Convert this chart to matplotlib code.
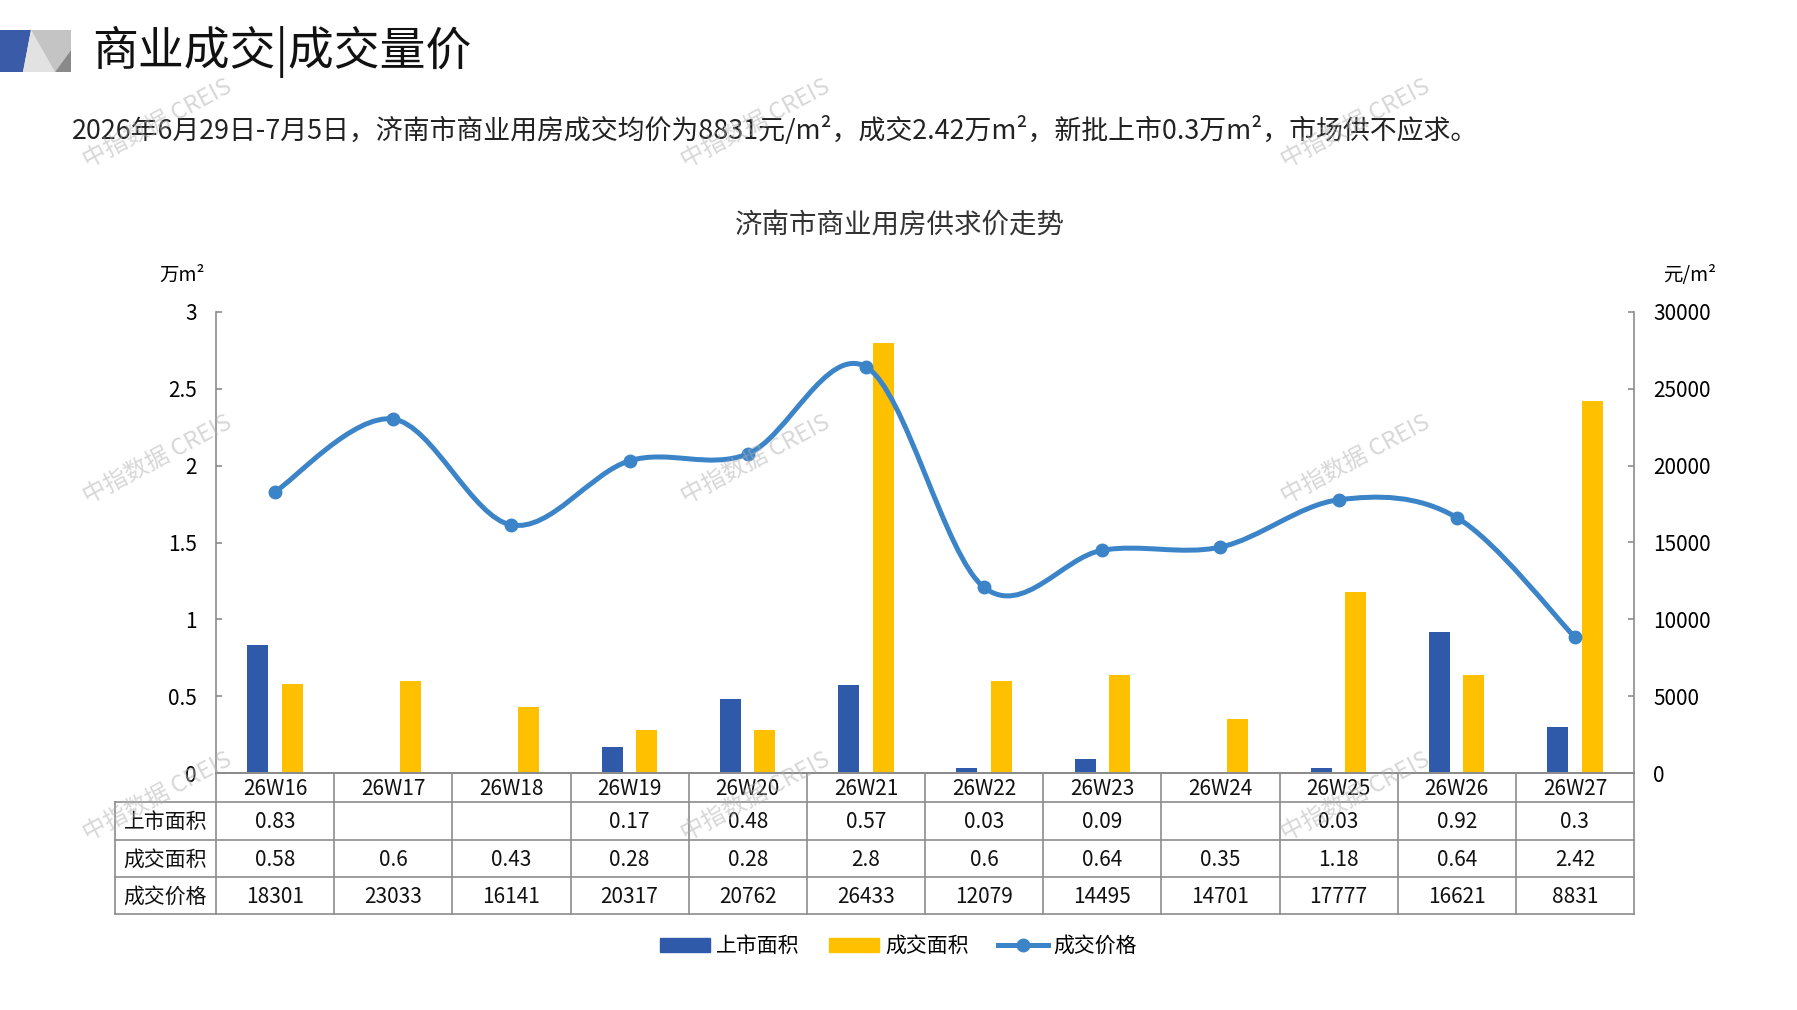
import matplotlib
matplotlib.use('Agg')
import matplotlib.pyplot as plt
import numpy as np
from matplotlib.path import Path
from matplotlib.patches import PathPatch, Polygon, Patch
from matplotlib.lines import Line2D
from matplotlib.transforms import blended_transform_factory

plt.rcParams['font.family'] = ['Noto Sans CJK SC', 'DejaVu Sans']

weeks = ['26W16', '26W17', '26W18', '26W19', '26W20', '26W21',
         '26W22', '26W23', '26W24', '26W25', '26W26', '26W27']
listed = [0.83, None, None, 0.17, 0.48, 0.57, 0.03, 0.09, None, 0.03, 0.92, 0.3]
sold = [0.58, 0.6, 0.43, 0.28, 0.28, 2.8, 0.6, 0.64, 0.35, 1.18, 0.64, 2.42]
price = [18301, 23033, 16141, 20317, 20762, 26433, 12079, 14495, 14701, 17777, 16621, 8831]
row_names = ['上市面积', '成交面积', '成交价格']
series_names = ['上市面积', '成交面积', '成交价格']
left_ticks = [0, 0.5, 1, 1.5, 2, 2.5, 3]
right_ticks = [0, 5000, 10000, 15000, 20000, 25000, 30000]

title = '商业成交|成交量价'
subtitle = '2026年6月29日-7月5日，济南市商业用房成交均价为8831元/m²，成交2.42万m²，新批上市0.3万m²，市场供不应求。'
chart_title = '济南市商业用房供求价走势'

c_blue = '#2F5AAA'
c_yellow = '#FFC000'
c_line = '#3C84C8'
c_grid = '#8C8C8C'

W, H = 1797, 1010
fig = plt.figure(figsize=(W / 100, H / 100), dpi=100)


def fx(x):
    return x / W


def fy(y):
    return 1 - y / H


# header logo
logo = [
    ([(0, 30), (31, 30), (23, 72), (0, 72)], '#3A5BA8'),
    ([(23, 72), (31, 30), (55, 72)], '#E2E2E2'),
    ([(31, 30), (71, 30), (71, 50), (55, 72)], '#C4C4C4'),
    ([(55, 72), (71, 50), (71, 72)], '#8A8A8A'),
]
for pts, col in logo:
    fig.patches.append(Polygon([(fx(a), fy(b)) for a, b in pts], closed=True,
                               transform=fig.transFigure, facecolor=col, edgecolor='none'))

fig.text(fx(92), fy(52), title, fontsize=33, va='center', ha='left', color='#111111')
fig.text(fx(72), fy(130), subtitle, fontsize=19.4, va='center', ha='left', color='#222222')
fig.text(fx(900), fy(225), chart_title, fontsize=19.8, va='center', ha='center', color='#333333')
fig.text(fx(182), fy(275), '万m²', fontsize=14, va='center', ha='center')
fig.text(fx(1690), fy(275), '元/m²', fontsize=14, va='center', ha='center')

# main axes
ax_l, ax_r, ax_t, ax_b = 216, 1634, 312, 773
ax = fig.add_axes([fx(ax_l), fy(ax_b), (ax_r - ax_l) / W, (ax_b - ax_t) / H])
ax2 = ax.twinx()
n = len(weeks)
x = np.arange(n)

bw = 0.178
off = 0.145
lx = [i for i in range(n) if listed[i] is not None]
ax.bar(np.array(lx) - off, [listed[i] for i in lx], width=bw, color=c_blue, zorder=2)
ax.bar(x + off, sold, width=bw, color=c_yellow, zorder=2)

ax.set_xlim(-0.5, n - 0.5)
ax.set_ylim(0, 3)
ax2.set_ylim(0, 30000)
ax.set_yticks(left_ticks)
ax.set_yticklabels([f'{t:g}' for t in left_ticks])
ax2.set_yticks(right_ticks)
ax2.set_yticklabels([str(t) for t in right_ticks])
ax.set_xticks([])

for a in (ax, ax2):
    for s in a.spines.values():
        s.set_color(c_grid)
        s.set_linewidth(1.2)
    a.spines['top'].set_visible(False)
    a.tick_params(axis='y', direction='in', length=4, width=1.2, color=c_grid,
                  labelsize=15, pad=14)
ax.spines['right'].set_visible(False)
ax2.spines['left'].set_visible(False)

# smoothed price line (Bezier, Excel-like)
pts = np.column_stack([x, price]).astype(float)
verts = [tuple(pts[0])]
codes = [Path.MOVETO]
for i in range(n - 1):
    p0 = pts[i - 1] if i > 0 else pts[i]
    p1, p2 = pts[i], pts[i + 1]
    p3 = pts[i + 2] if i + 2 < n else pts[i + 1]
    c1 = p1 + (p2 - p0) / 6
    c2 = p2 - (p3 - p1) / 6
    verts += [tuple(c1), tuple(c2), tuple(p2)]
    codes += [Path.CURVE4] * 3
ax2.add_patch(PathPatch(Path(verts, codes), facecolor='none', edgecolor=c_line,
                        linewidth=3.6, capstyle='round', zorder=3))
ax2.plot(x, price, 'o', color=c_line, markersize=9, zorder=4)

# data table below the axes
tr = blended_transform_factory(ax.transData, ax.transAxes)
ax_h = ax_b - ax_t
col_px = (ax_r - ax_l) / n
x_lab = -0.5 - (ax_l - 115) / col_px
rows_px = [773, 802, 840, 877, 914]
ry = [(ax_b - r) / ax_h for r in rows_px]

lkw = dict(color=c_grid, linewidth=1.2, transform=tr, clip_on=False)
for k, yv in enumerate(ry):
    if k == 0:
        ax.plot([-0.5, n - 0.5], [yv, yv], **lkw)
    else:
        ax.plot([x_lab, n - 0.5], [yv, yv], **lkw)
for b in np.arange(-0.5, n, 1.0):
    ax.plot([b, b], [ry[0], ry[-1]], **lkw)
ax.plot([x_lab, x_lab], [ry[1], ry[-1]], **lkw)

tkw = dict(transform=tr, ha='center', va='center', fontsize=15, clip_on=False, color='#111111')
for i in range(n):
    ax.text(i, (ry[0] + ry[1]) / 2 - 0.003, weeks[i], **tkw)
table_rows = [
    ['' if v is None else f'{v:g}' for v in listed],
    [f'{v:g}' for v in sold],
    [str(v) for v in price],
]
for r in range(3):
    yc = (ry[r + 1] + ry[r + 2]) / 2 - 0.003
    ax.text((x_lab - 0.5) / 2, yc, row_names[r], **tkw)
    for i in range(n):
        ax.text(i, yc, table_rows[r][i], **tkw)

# legend
handles = [Patch(color=c_blue), Patch(color=c_yellow),
           Line2D([], [], color=c_line, linewidth=3.6, marker='o', markersize=9)]
fig.legend(handles, series_names, loc='center', bbox_to_anchor=(0.5, fy(946)), ncol=3,
           frameon=False, fontsize=15, handlelength=2.4, handleheight=0.65,
           handletextpad=0.3, columnspacing=1.4)

# watermarks
for wx in (158, 756, 1356):
    for wy in (124, 460, 797):
        fig.text(fx(wx), fy(wy), '中指数据 CREIS', fontsize=17, rotation=28,
                 ha='center', va='center', color='#B0B0B0', alpha=0.5, zorder=10)

fig.savefig('out.png', dpi=100)
